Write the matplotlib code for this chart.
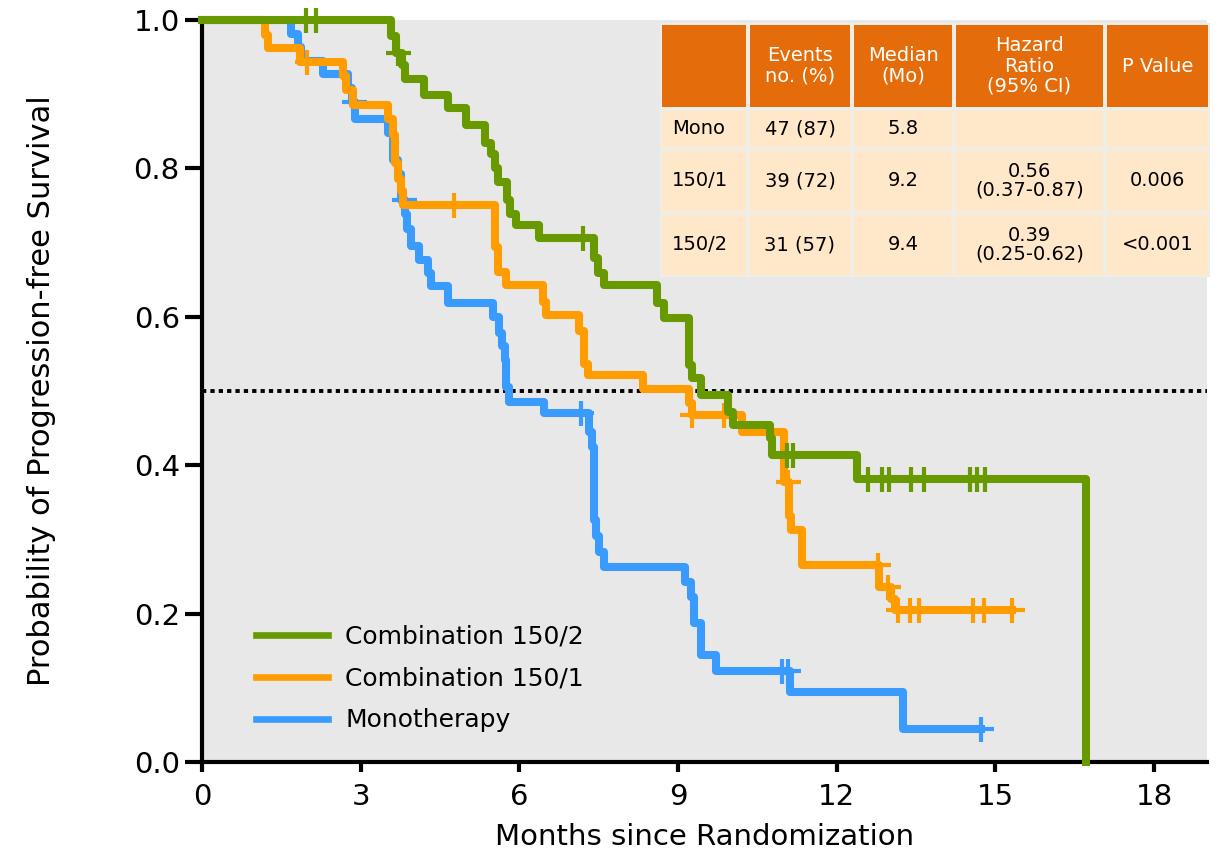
import numpy as np
import matplotlib.pyplot as plt
from matplotlib.lines import Line2D
from matplotlib.patches import Rectangle
from matplotlib.ticker import FormatStrFormatter

# Kaplan-Meier steps: time of each drop (months) and survival after the drop
green_t = [3.58, 3.67, 3.78, 3.83, 4.19, 4.65, 4.99, 5.35, 5.47, 5.53, 5.59, 5.76,
           5.83, 5.94, 6.38, 7.42, 7.49, 7.60, 8.61, 8.74, 9.21, 9.27, 9.43, 9.95,
           10.04, 10.73, 10.78, 12.38, 16.72]
green_s = [0.978, 0.956, 0.940, 0.920, 0.899, 0.881, 0.859, 0.834, 0.820, 0.801, 0.782, 0.757,
           0.738, 0.724, 0.706, 0.679, 0.659, 0.643, 0.618, 0.598, 0.535, 0.517, 0.494, 0.472,
           0.454, 0.436, 0.414, 0.382, 0.0]
green_cens = [1.96, 2.16, 3.70, 7.20, 11.06, 11.17, 12.59, 12.86, 12.99, 13.40, 13.65,
              14.52, 14.65, 14.80]

orange_t = [1.19, 1.25, 1.85, 2.67, 2.73, 2.86, 3.52, 3.62, 3.65, 3.70, 3.76, 3.80,
            5.53, 5.59, 5.75, 6.44, 6.50, 7.12, 7.22, 7.29, 8.33, 9.21, 9.26, 10.21,
            11.00, 11.09, 11.13, 11.35, 12.80, 13.03, 13.10, 15.31]
orange_s = [0.980, 0.962, 0.943, 0.924, 0.906, 0.885, 0.867, 0.845, 0.807, 0.786, 0.769, 0.751,
            0.694, 0.660, 0.643, 0.620, 0.602, 0.581, 0.537, 0.522, 0.503, 0.484, 0.467, 0.445,
            0.378, 0.331, 0.313, 0.265, 0.236, 0.220, 0.205, 0.205]
orange_cens = [1.99, 4.76, 9.26, 9.86, 11.07, 12.78, 12.97, 13.15, 13.38, 13.56,
               14.57, 14.79, 15.31]

blue_t = [1.69, 1.82, 1.87, 2.28, 2.76, 2.84, 2.90, 3.52, 3.61, 3.70, 3.76, 3.83, 3.87,
          3.96, 4.11, 4.27, 4.33, 4.65, 5.50, 5.62, 5.68, 5.72, 5.75, 5.81, 6.47, 7.32,
          7.38, 7.42, 7.45, 7.51, 7.60, 9.14, 9.24, 9.30, 9.43, 9.72, 11.12, 13.26, 14.73]
blue_s = [0.981, 0.963, 0.945, 0.927, 0.908, 0.889, 0.867, 0.848, 0.811, 0.793, 0.757, 0.738, 0.719,
          0.696, 0.677, 0.659, 0.641, 0.618, 0.600, 0.578, 0.560, 0.542, 0.505, 0.485, 0.470, 0.445,
          0.425, 0.326, 0.304, 0.283, 0.263, 0.243, 0.223, 0.187, 0.144, 0.122, 0.095, 0.045, 0.045]
blue_cens = [2.88, 3.81, 7.16, 10.97, 11.08, 14.73]

labels = ['Combination 150/2', 'Combination 150/1', 'Monotherapy']
colors = ['#689a00', '#ff9c00', '#3a9bff']

table_header = ['', 'Events\nno. (%)', 'Median\n(Mo)', 'Hazard\nRatio\n(95% CI)', 'P Value']
table_rows = [['Mono', '47 (87)', '5.8', '', ''],
              ['150/1', '39 (72)', '9.2', '0.56\n(0.37-0.87)', '0.006'],
              ['150/2', '31 (57)', '9.4', '0.39\n(0.25-0.62)', '<0.001']]

W, H = 1216, 855
fig = plt.figure(figsize=(W / 100, H / 100), dpi=100)
ax = fig.add_axes([202 / W, 93 / H, 1005 / W, 742 / H])
ax.set_facecolor('#e8e8e8')

ax.axhline(0.5, color='black', lw=2.8, linestyle=(0, (1.1, 1.05)), zorder=2)

curves = [(blue_t, blue_s, blue_cens, colors[2]),
          (orange_t, orange_s, orange_cens, colors[1]),
          (green_t, green_s, green_cens, colors[0])]
for i, (t, s, cens, c) in enumerate(curves):
    x = np.r_[0, t]
    y = np.r_[1.0, s]
    ax.step(x, y, where='post', color=c, lw=5.8, clip_on=False, zorder=3 + i)
    # place each censor mark on the curve level at that time
    idx = np.searchsorted(x, cens, side='right') - 1
    ax.plot(cens, y[idx], linestyle='none', marker='+', ms=18, mew=3.0,
            color=c, clip_on=False, zorder=3 + i)

ax.set_xlim(0, 19)
ax.set_ylim(0, 1.0)
ax.set_xticks(range(0, 19, 3))
ax.set_yticks(np.arange(0, 1.01, 0.2))
ax.yaxis.set_major_formatter(FormatStrFormatter('%.1f'))
for side in ['top', 'right']:
    ax.spines[side].set_visible(False)
for side in ['left', 'bottom']:
    ax.spines[side].set_linewidth(3)
ax.tick_params(axis='y', length=12, width=3, labelsize=21, pad=4)
ax.tick_params(axis='x', length=7, width=3, labelsize=21, pad=8)
ax.set_xlabel('Months since Randomization', fontsize=21, labelpad=9)
ax.set_ylabel('Probability of Progression-free Survival', fontsize=22, labelpad=56)

handles = [Line2D([], [], color=c, lw=4.8) for c in colors]
ax.legend(handles, labels, loc='lower left', bbox_to_anchor=(0.054, 0.04),
          frameon=False, fontsize=18, handlelength=2.85, handletextpad=0.7,
          labelspacing=0.72, borderpad=0, borderaxespad=0)

# summary table drawn in pixel units on its own axes
tx0, tx1, ty0, ty1 = 660, 1210, 23, 277
tax = fig.add_axes([tx0 / W, (H - ty1) / H, (tx1 - tx0) / W, (ty1 - ty0) / H])
tax.set_xlim(tx0, tx1)
tax.set_ylim(ty1, ty0)
tax.axis('off')
col_edges = [660, 748, 852, 954, 1105, 1210]
row_edges = [23, 109, 149, 213, 277]
tax.add_patch(Rectangle((tx0, ty0), tx1 - tx0, ty1 - ty0, color='#f0ede4', lw=0))
g = 1.6
for r in range(4):
    for c in range(5):
        x0, x1 = col_edges[c], col_edges[c + 1]
        y0, y1 = row_edges[r], row_edges[r + 1]
        fc = '#e46c0a' if r == 0 else '#ffe7c9'
        tax.add_patch(Rectangle((x0 + g, y0 + g), x1 - x0 - 2 * g, y1 - y0 - 2 * g,
                                color=fc, lw=0))
        txt = table_header[c] if r == 0 else table_rows[r - 1][c]
        if not txt:
            continue
        yc = (y0 + y1) / 2
        if r == 0:
            tax.text((x0 + x1) / 2, yc, txt, color='white', fontsize=14,
                     ha='center', va='center', linespacing=1.1)
        elif c == 0:
            tax.text(x0 + 12, yc, txt, color='black', fontsize=14,
                     ha='left', va='center')
        else:
            tax.text((x0 + x1) / 2, yc, txt, color='black', fontsize=14,
                     ha='center', va='center', linespacing=1.0)

fig.savefig('out.png', dpi=100)
